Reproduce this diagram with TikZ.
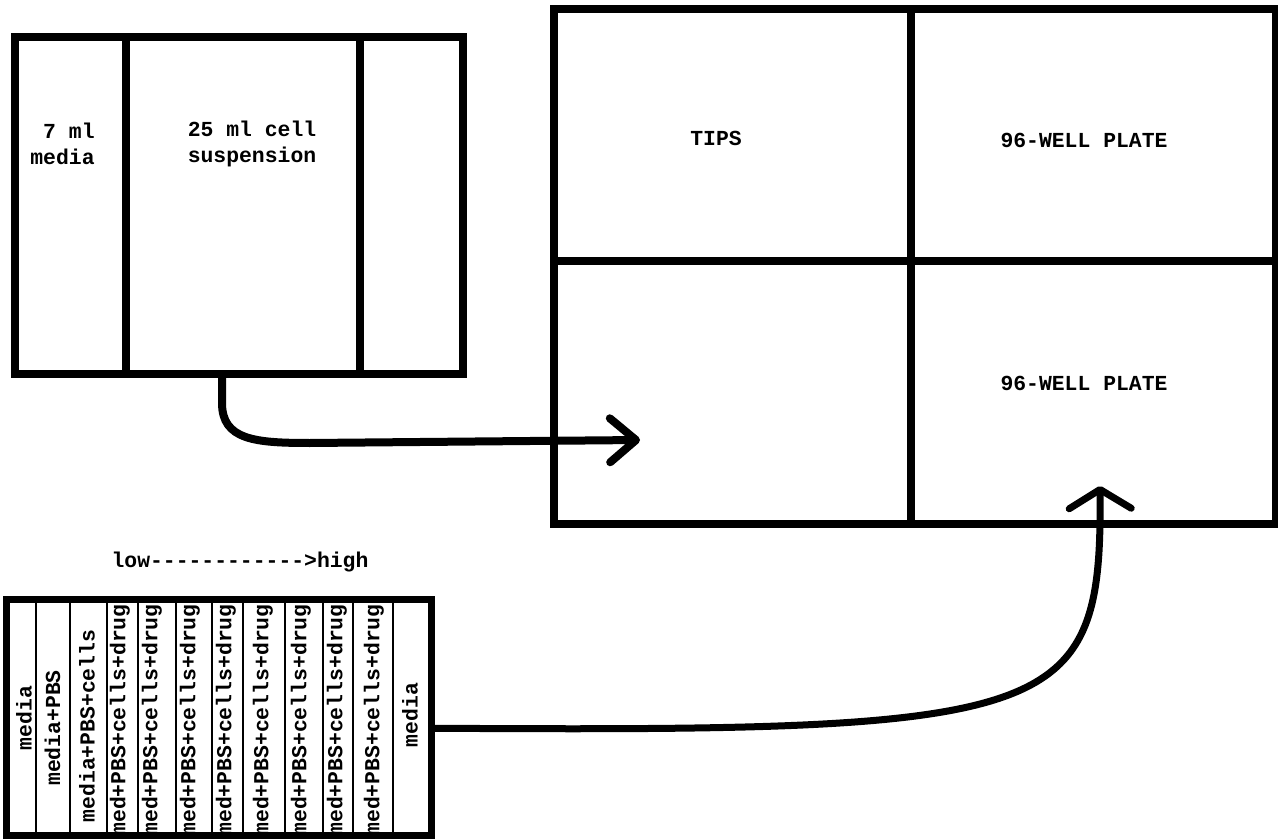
\documentclass[tikz,border=0pt]{standalone}
\usepackage{fontspec}
\setmonofont{Liberation Mono}
\usetikzlibrary{arrows.meta,positioning,calc}
\tikzset{
  frame/.style={draw, line width=4pt, inner sep=0pt},
  wall/.style={line width=4pt},
  lane/.style={line width=1pt},
  lbl/.style={font=\fontsize{10.7}{13}\selectfont\ttfamily\bfseries, inner sep=0pt},
  well/.style={lbl, rotate=90},
  flow/.style={line width=4pt, line cap=round},
}

\begin{document}
\begin{tikzpicture}[x=0.5pt, y=-0.5pt]
  \useasboundingbox (0,0) rectangle (1278,839);
  % Reservoir
  \node[frame, minimum width=224pt, minimum height=168.5pt] (reservoir) at (239,205.5) {};
  \draw[wall] (126,37) -- (126,374);
  \draw[wall] (360,37) -- (360,374);
  \node[lbl, align=right] (media) at (62.5,144) {7 ml\\media};
  \node[lbl, align=center] (cells) at (252,144) {25 ml cell\\suspension};
  % Deck
  \node[frame, minimum width=360.75pt, minimum height=257.5pt] (deck) at (914.75,266.5) {};
  \draw[wall] (910.5,9) -- (910.5,524);
  \draw[wall] (554,261) -- (1275.5,261);
  \node[lbl] (tips) at (716,138) {TIPS};
  \node[lbl] (plateA) at (1084,140) {96-WELL PLATE};
  \node[lbl] (plateB) at (1084,383) {96-WELL PLATE};
  % Trough
  \node[lbl] (range) at (240,562.5) {low------------>high};
  \foreach \x in {35.7,70,107.3,138.3,175.7,212.3,243.3,285,322.7,353.3,392.7}
    \draw[lane] (\x,603) -- (\x,832);
  \begin{scope}
    \clip (10,603) rectangle (428,832);
    \foreach \x/\y/\txt [count=\i] in {24/718/media, 52.5/728/media+PBS, 87/726/media+PBS+cells,
        120/720/med+PBS+cells+drug, 152/720/med+PBS+cells+drug, 190/720/med+PBS+cells+drug,
        226/720/med+PBS+cells+drug, 263/720/med+PBS+cells+drug, 301/720/med+PBS+cells+drug,
        337/720/med+PBS+cells+drug, 374/720/med+PBS+cells+drug, 410/715/media}
      \node[well] (well\i) at (\x,\y) {\txt};
  \end{scope}
  \node[frame, line width=3.5pt, minimum width=212.5pt, minimum height=118.25pt] (trough) at (219,717.25) {};
  % Transfers
  \coordinate (platein) at (640,440);
  \coordinate (platetip) at (1100,486);
  \draw[flow, -{Straight Barb[length=13pt,width=22pt,round]}]
    ([xshift=-8.5pt]reservoir.south) -- ++(0,25) .. controls (222,440) and (255,443) .. (310,443) -- (platein);
  \draw[flow, line width=3.5pt, -{Straight Barb[length=9.5pt,width=31pt,round]}]
    ([yshift=-5.5pt]trough.east) .. controls (1060,732) and (1102,720) .. (platetip);
\end{tikzpicture}
\end{document}
